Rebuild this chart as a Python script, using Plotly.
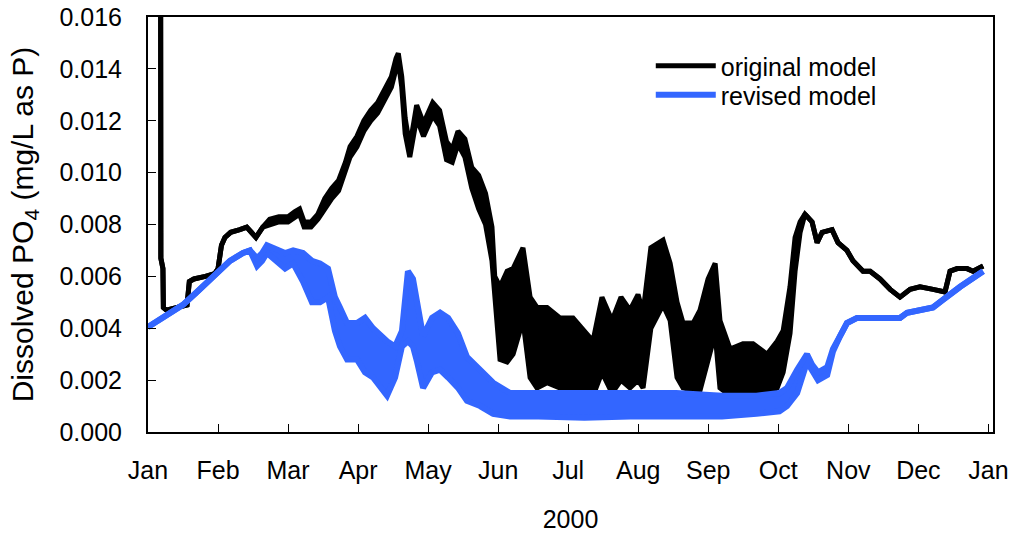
import plotly.graph_objects as go

# ---- data (day of year 2000) ----
orig_day = [5.5, 5.6, 6.5, 6.7, 8, 12, 17, 18, 20, 25, 29, 30.5, 32, 33.5, 36, 40, 43, 45, 47, 50,
            53, 57, 61, 64, 66, 68, 71, 74, 77, 80, 83, 86, 88, 91, 94, 97, 100, 103, 106, 108,
            109, 110.5, 112, 114, 117, 120, 124, 127, 130, 132.5, 135, 138, 141, 144, 147, 149.8,
            151, 153.3, 156.4, 159, 163.3, 166.4, 169.4, 173.8, 179.4, 185.1, 191.2, 193.8, 197.7,
            202.1, 206, 209.9, 213.4, 215.6, 219, 224.3, 227.4, 230.4, 233, 237.4, 240.4, 243.9,
            247, 249.1, 253.5, 259.1, 263.5, 269.6, 274, 276.6, 279.6, 281.8, 284, 286.1, 289.2,
            291.4, 293.6, 297.9, 300.5, 304.4, 307, 311.4, 314.5, 318.8, 323.2, 327.5, 331.9,
            336.2, 341.9, 347.1, 349.3, 352.4, 356.7, 359.3, 363.7]
orig_lo = [0.0175, 0.0067, 0.0063, 0.0048, 0.0047, 0.0048, 0.0049, 0.0058, 0.0059, 0.0060, 0.0061,
           0.0063, 0.0072, 0.0075, 0.0077, 0.0078, 0.0079, 0.0077, 0.0075, 0.0079,
           0.0080, 0.0081, 0.0081, 0.0083, 0.0084, 0.0079, 0.0079, 0.0082, 0.0086, 0.0090, 0.0093,
           0.0100, 0.0106, 0.0110, 0.0116, 0.0120, 0.0123, 0.0128, 0.0133, 0.0140,
           0.0143, 0.0133, 0.0115, 0.0106, 0.0121, 0.0114, 0.0122, 0.0118, 0.0105, 0.0104, 0.0111,
           0.0106, 0.0094, 0.0086, 0.0080, 0.0066,
           0.0051, 0.0028, 0.0027, 0.0030, 0.0043, 0.0021, 0.0017, 0.0019, 0.0017, 0.0017, 0.0014,
           0.0014, 0.0023, 0.0015, 0.0020, 0.0017, 0.0020, 0.0017, 0.0040, 0.0049, 0.0043, 0.0021,
           0.0017, 0.0016, 0.0016, 0.0027, 0.0038, 0.0017, 0.0014, 0.0015, 0.0015, 0.0015, 0.0017,
           0.0023, 0.0038, 0.0062, 0.0077, 0.0084, 0.0081,
           0.0073, 0.0077, 0.0078, 0.0073, 0.0070, 0.0066, 0.0062, 0.0062, 0.0059, 0.0055, 0.0052,
           0.0055, 0.0056, 0.0055, 0.0054, 0.0062, 0.0063, 0.0063, 0.0062, 0.0064]
orig_hi = [0.0175, 0.0067, 0.0063, 0.0048, 0.0047, 0.0048, 0.0049, 0.0058, 0.0059, 0.0060, 0.0061,
           0.0063, 0.0072, 0.0075, 0.0077, 0.0078, 0.0079, 0.0077, 0.0075, 0.0079,
           0.0082, 0.0083, 0.0083, 0.0085, 0.0086, 0.0081, 0.0081, 0.0084, 0.0090, 0.0094, 0.0097,
           0.0104, 0.0110, 0.0114, 0.0120, 0.0124, 0.0127, 0.0132, 0.0137, 0.0144,
           0.0146, 0.0137, 0.0121, 0.0110, 0.0126, 0.0119, 0.0127, 0.0124, 0.0112, 0.0109, 0.0116,
           0.0113, 0.0102, 0.0099, 0.0092, 0.0079,
           0.0060, 0.0056, 0.0062, 0.0063, 0.0071, 0.0052, 0.0048, 0.0048, 0.0044, 0.0044, 0.0038,
           0.0035, 0.0052, 0.0043, 0.0052, 0.0047, 0.0053, 0.0046, 0.0071, 0.0074, 0.0065, 0.0050,
           0.0042, 0.0042, 0.0047, 0.0059, 0.0065, 0.0043, 0.0032, 0.0034, 0.0034, 0.0030, 0.0035,
           0.0039, 0.0056, 0.0075, 0.0081, 0.0084, 0.0081,
           0.0073, 0.0077, 0.0078, 0.0073, 0.0070, 0.0066, 0.0062, 0.0062, 0.0059, 0.0055, 0.0052,
           0.0055, 0.0056, 0.0055, 0.0054, 0.0062, 0.0063, 0.0063, 0.0062, 0.0064]

rev_day = [0, 6.5, 15.2, 21.3, 30, 35.7, 41.4, 44.4, 47.5, 49.7, 51.8, 56.2, 59.7, 63.2, 67.5,
           71.4, 74.9, 78.4, 81.4, 83.6, 86.7, 91, 94.5, 98, 102.4, 104.1, 107.6, 110.6, 113.2,
           115.4, 117.2, 119.8, 123.7, 127.2, 130.7, 135, 138.9, 144.6, 150.3, 157.7, 170, 190,
           210, 230, 250, 265, 275, 278.3, 282.7, 287, 289.2, 291.8, 295.8, 298.3, 301.4, 304.4,
           308.8, 324.5, 327.5, 330.6, 341.9, 346.3, 353.7, 363.7]
rev_lo = [0.00405, 0.0044, 0.0049, 0.0054, 0.0061, 0.0066, 0.0069, 0.0070, 0.0064, 0.0066, 0.0069,
          0.0066, 0.0063, 0.0065, 0.0058, 0.0050, 0.0050, 0.0052, 0.0039, 0.0033, 0.0028, 0.0028,
          0.0023, 0.0021, 0.0016, 0.0014, 0.0021, 0.0033, 0.0035, 0.0033, 0.0027, 0.0017, 0.0023,
          0.0024, 0.0021, 0.0017, 0.0012, 0.0010, 0.0007, 0.0006, 0.0006, 0.00055, 0.0006, 0.0006,
          0.0006, 0.0007, 0.0008, 0.0010, 0.0015, 0.0027, 0.0024, 0.0020, 0.0022, 0.0031, 0.0037,
          0.0042, 0.0044, 0.0044, 0.0044, 0.0046, 0.0048, 0.0051, 0.0056, 0.0062]
rev_hi = [0.00405, 0.0044, 0.0049, 0.0054, 0.0061, 0.0066, 0.0069, 0.0070, 0.0067, 0.0069, 0.0072,
          0.0070, 0.0069, 0.0070, 0.0069, 0.0066, 0.0065, 0.0063, 0.0052, 0.0048, 0.0042, 0.0042,
          0.0044, 0.0040, 0.0036, 0.0035, 0.0033, 0.0039, 0.0062, 0.0059, 0.0050, 0.0037, 0.0044,
          0.0046, 0.0044, 0.0038, 0.0029, 0.0024, 0.0019, 0.0015, 0.0015, 0.0015, 0.0015, 0.0015,
          0.0014, 0.0014, 0.0015, 0.0017, 0.0024, 0.0030, 0.0026, 0.0023, 0.0025, 0.0032, 0.0037,
          0.0042, 0.0044, 0.0044, 0.0044, 0.0046, 0.0048, 0.0051, 0.0056, 0.0062]

month_ticks = [i * 30.5 for i in range(13)]
month_labels = ["Jan", "Feb", "Mar", "Apr", "May", "Jun", "Jul", "Aug", "Sep", "Oct", "Nov", "Dec", "Jan"]
y_ticks = [0.000, 0.002, 0.004, 0.006, 0.008, 0.010, 0.012, 0.014, 0.016]

BLACK = "#000000"
BLUE = "#3366FF"
FONT = "Liberation Sans, Arial, sans-serif"

fig = go.Figure()
fig.add_trace(go.Scatter(x=orig_day, y=orig_lo, mode="lines", name="original model",
                         line=dict(color=BLACK, width=5), legend="legend"))
fig.add_trace(go.Scatter(x=orig_day, y=orig_hi, mode="lines", name="original model",
                         line=dict(color=BLACK, width=5), fill="tonexty", fillcolor=BLACK,
                         showlegend=False, legend="legend"))
fig.add_trace(go.Scatter(x=rev_day, y=rev_lo, mode="lines", name="revised model",
                         line=dict(color=BLUE, width=6), legend="legend2"))
fig.add_trace(go.Scatter(x=rev_day, y=rev_hi, mode="lines", name="revised model",
                         line=dict(color=BLUE, width=6), fill="tonexty", fillcolor=BLUE,
                         showlegend=False, legend="legend2"))

legend_common = dict(xanchor="left", yanchor="middle", bgcolor="rgba(0,0,0,0)",
                     font=dict(size=25, family=FONT, color="black"), itemwidth=60)

fig.update_layout(
    width=1012, height=533,
    margin=dict(l=148, r=19, t=17, b=101, autoexpand=False),
    paper_bgcolor="white", plot_bgcolor="white",
    font=dict(family=FONT, size=25, color="black"),
    showlegend=True,
    legend=dict(x=0.595, y=(432 - 66) / 415, **legend_common),
    legend2=dict(x=0.595, y=(432 - 95) / 415, **legend_common),
    xaxis=dict(range=[0, 368], tickmode="array", tickvals=month_ticks, ticktext=month_labels,
               ticks="inside", ticklen=8, tickcolor="black", tickwidth=1,
               showline=True, linecolor="black", linewidth=2, mirror=True,
               showgrid=False, zeroline=False, ticklabelstandoff=15, automargin=False,
               tickfont=dict(size=25),
               title=dict(text="2000", font=dict(size=25), standoff=27)),
    yaxis=dict(range=[0, 0.016], tickmode="array", tickvals=y_ticks, tickformat=".3f",
               ticks="inside", ticklen=8, tickcolor="black", tickwidth=1,
               showline=True, linecolor="black", linewidth=2, mirror=True,
               showgrid=False, zeroline=False, ticklabelstandoff=19, automargin=False,
               tickfont=dict(size=25),
               title=dict(text="Dissolved PO<sub>4</sub> (mg/L as P)", font=dict(size=30), standoff=17)),
)

fig.write_html("out.html", config={"displayModeBar": False},
               post_script="document.body.style.margin='0';")
